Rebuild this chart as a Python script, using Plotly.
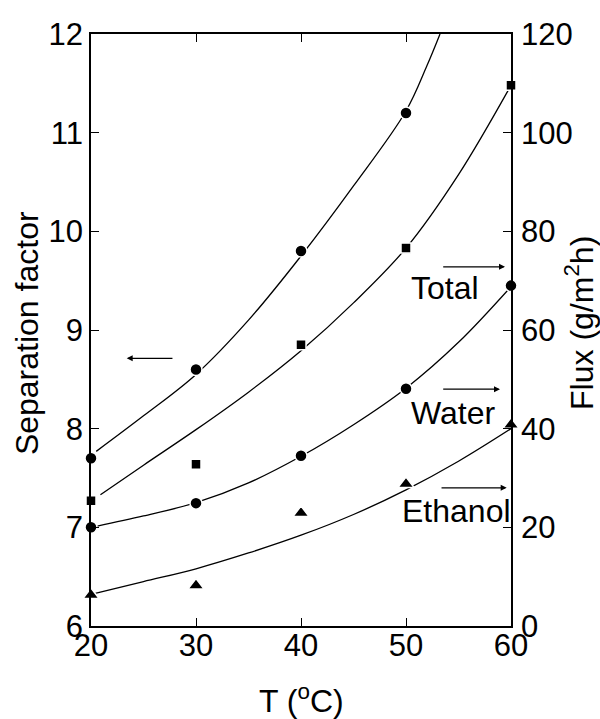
import plotly.graph_objects as go

# ---- data ----
temps = [20, 30, 40, 50, 60]
sep_factor = [7.7, 8.6, 9.8, 11.2]          # left axis, T = 20..50
total_flux = [25.4, 32.8, 57.0, 76.6, 109.6]  # right axis
water_flux = [20.0, 24.9, 34.5, 48.1, 69.0]
ethanol_flux = [6.3, 8.2, 22.9, 28.8, 40.8]

# fitted curves
sep_curve_t = [20.5, 25, 30, 35, 40, 45, 50, 52, 53.24]
sep_curve_v = [7.77, 8.13, 8.55, 9.1, 9.75, 10.46, 11.22, 11.68, 12.0]
total_curve_t = [20.9, 25, 30, 35, 40, 45, 50, 55, 60]
total_curve_v = [26.6, 32.6, 39.8, 47.4, 55.8, 65.5, 76.6, 91.5, 109.6]
water_curve_t = [20.5, 25, 30, 35, 40, 45, 50, 55, 60]
water_curve_v = [20.2, 22.3, 25.0, 29.0, 34.4, 40.8, 48.2, 57.5, 68.8]
ethanol_curve_t = [20.4, 25, 30, 35, 40, 45, 50, 55, 60]
ethanol_curve_v = [6.6, 9.0, 11.6, 14.8, 18.4, 22.6, 27.6, 33.4, 40.0]

x_ticks = [20, 30, 40, 50, 60]
y_ticks = [6, 7, 8, 9, 10, 11, 12]
y2_ticks = [0, 20, 40, 60, 80, 100, 120]

FONT = "Liberation Sans, Arial, sans-serif"
fig = go.Figure()

line_style = dict(color="black", width=1.3, shape="spline")
mk_line = dict(color="white", width=1.5)

# curves
fig.add_trace(go.Scatter(x=sep_curve_t, y=sep_curve_v, mode="lines", line=line_style, yaxis="y"))
fig.add_trace(go.Scatter(x=total_curve_t, y=total_curve_v, mode="lines", line=line_style, yaxis="y2"))
fig.add_trace(go.Scatter(x=water_curve_t, y=water_curve_v, mode="lines", line=line_style, yaxis="y2"))
fig.add_trace(go.Scatter(x=ethanol_curve_t, y=ethanol_curve_v, mode="lines", line=line_style, yaxis="y2"))

# markers
fig.add_trace(go.Scatter(x=temps[:len(sep_factor)], y=sep_factor, mode="markers", yaxis="y",
                         cliponaxis=False,
                         marker=dict(symbol="circle", size=12, color="black", line=mk_line)))
fig.add_trace(go.Scatter(x=temps, y=total_flux, mode="markers", yaxis="y2", cliponaxis=False,
                         marker=dict(symbol="square", size=10, color="black", line=mk_line)))
fig.add_trace(go.Scatter(x=temps, y=water_flux, mode="markers", yaxis="y2", cliponaxis=False,
                         marker=dict(symbol="circle", size=12, color="black", line=mk_line)))
fig.add_trace(go.Scatter(x=temps, y=ethanol_flux, mode="markers", yaxis="y2", cliponaxis=False,
                         marker=dict(symbol="triangle-up", size=14, color="black", line=mk_line)))

tick_font = dict(family=FONT, size=31, color="black")
axis_common = dict(showgrid=False, zeroline=False, showline=True, linecolor="black", linewidth=1.5,
                   ticks="inside", ticklen=8, tickwidth=1.3, tickcolor="black", tickfont=tick_font)

annotations = []
# arrows
arrows = [
    # (head_x, head_y, tail_x, tail_y, yref)
    (23.4, 8.713, 27.9, 8.713, "y"),
    (59.43, 72.8, 53.4, 72.8, "y2"),
    (58.95, 48.0, 53.4, 48.0, "y2"),
    (59.59, 28.0, 53.24, 28.0, "y2"),
]
for hx, hy, tx, ty, yr in arrows:
    annotations.append(dict(x=hx, y=hy, ax=tx, ay=ty, xref="x", yref=yr, axref="x", ayref=yr,
                            text="", showarrow=True, arrowhead=2, arrowsize=1.0, arrowwidth=1.2,
                            arrowcolor="black"))
labels = [("Total", 53.76, 68.6), ("Water", 54.57, 43.1), ("Ethanol", 54.81, 23.4)]
for txt, lx, ly in labels:
    annotations.append(dict(x=lx, y=ly, xref="x", yref="y2", text=txt, showarrow=False,
                            font=dict(family=FONT, size=32, color="black"),
                            xanchor="center", yanchor="middle"))
# axis titles
annotations.append(dict(x=-0.152, y=0.495, xref="paper", yref="paper", text="Separation factor",
                        textangle=-90, showarrow=False, xanchor="center", yanchor="middle",
                        font=dict(family=FONT, size=32, color="black")))
annotations.append(dict(x=1.162, y=0.512, xref="paper", yref="paper", text="Flux (g/m<sup>2</sup>h)",
                        textangle=-90, showarrow=False, xanchor="center", yanchor="middle",
                        font=dict(family=FONT, size=32, color="black")))
annotations.append(dict(x=0.5, y=-0.123, xref="paper", yref="paper", text="T (<sup>o</sup>C)",
                        showarrow=False, xanchor="center", yanchor="middle",
                        font=dict(family=FONT, size=32, color="black")))

fig.update_layout(
    width=600, height=719,
    margin=dict(l=91, r=89, t=34, b=93),
    paper_bgcolor="white", plot_bgcolor="white",
    showlegend=False,
    xaxis=dict(range=[20, 60], tickvals=x_ticks, mirror="ticks", ticklabelstandoff=-9, **axis_common),
    yaxis=dict(range=[6, 12], tickvals=y_ticks, **axis_common),
    yaxis2=dict(range=[0, 120], tickvals=y2_ticks, overlaying="y", side="right",
                ticklabelstandoff=2, **axis_common),
    annotations=annotations,
)

fig.write_html("out.html", config={"displayModeBar": False},
               post_script="document.body.style.margin='0';document.body.style.overflow='hidden';")
